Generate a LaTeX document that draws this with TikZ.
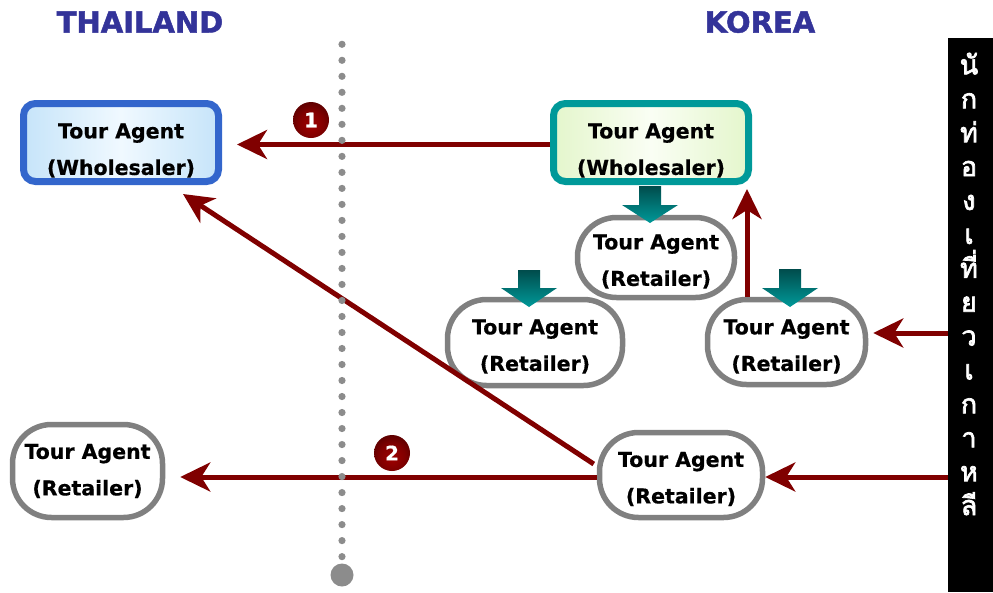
\documentclass[tikz,border=0pt]{standalone}
\usepackage{fontspec}
\setmainfont{DejaVu Sans}
\newfontfamily\thaifont[Script=Thai,FakeBold=2.5]{Loma}
\newfontfamily\heavyfont[FakeBold=1.6]{DejaVu Sans Bold}
\newfontfamily\labelfont[FakeBold=0.6]{DejaVu Sans Bold}
\usetikzlibrary{arrows.meta,calc,shadings}

\definecolor{arrowred}{HTML}{800000}
\definecolor{titleblue}{HTML}{333399}
\definecolor{wholeblue}{HTML}{3366CC}
\definecolor{wholeteal}{HTML}{009999}
\definecolor{retailgray}{HTML}{808080}
\definecolor{dotgray}{HTML}{8C8C8C}
\definecolor{blueA}{HTML}{C6E4F9}
\definecolor{blueB}{HTML}{F0F9FF}
\definecolor{greenA}{HTML}{E4F6CC}
\definecolor{greenB}{HTML}{FAFEF4}
\definecolor{tealdark}{HTML}{004C4C}

\pgfdeclareradialshading{badgeball}{\pgfpoint{0bp}{-8bp}}{%
  color(0bp)=(red!62!black); color(18bp)=(arrowred); color(34bp)=(black!70!red); color(50bp)=(black!70!red)}

% first-line strut: pushes a two-line label down by #1 pt
\newcommand\pushdown[1]{\rule{0pt}{\dimexpr 15pt+#1pt*2\relax}}

\tikzset{
  agent/.style={align=center, inner sep=0pt,
    font=\labelfont\fontsize{20.5}{36.5}\selectfont},
  wholesaler/.style={agent, draw, line width=7pt, rounded corners=12pt,
    minimum width=195pt, minimum height=78pt, shading angle=45},
  retailer/.style={agent, draw=retailgray, fill=white, line width=5.5pt,
    rounded corners=39pt},
  redarrow/.style={draw=arrowred, line width=5pt,
    -{Stealth[length=30pt,width=29pt,inset=9pt]}},
  badge/.style={circle, minimum size=36pt, inner sep=0pt, shading=badgeball,
    text=white, font=\labelfont\fontsize{20}{20}\selectfont},
  title/.style={text=titleblue, font=\heavyfont\fontsize{29}{30}\selectfont},
  blockarrow/.style={top color=tealdark, bottom color=wholeteal, draw=none}
}

% down-pointing block arrow: centre x, shaft top, head base, tip
\newcommand\tealdown[4]{%
  \shade[blockarrow] (#1-11,#2) -- (#1+11,#2) -- (#1+11,#3) -- (#1+28,#3)
    -- (#1,#4) -- (#1-28,#3) -- (#1-11,#3) -- cycle;}

\begin{document}
\begin{tikzpicture}[x=1pt,y=-1pt]
\useasboundingbox (0,0) rectangle (993,592);

% titles
\node[title] (thai) at (140,22) {THAILAND};
\node[title] (korea) at (760,22) {KOREA};

% side bar with vertical Thai text
\node[fill=black, inner sep=0pt, minimum width=45pt, minimum height=554pt,
  anchor=north west] (bar) at (948,38) {};
\node[text=white, align=center, inner sep=0pt,
  font=\thaifont\fontsize{27}{33.9}\selectfont] (tourist) at (969,284)
  {นั\\ก\\ท่\\อ\\ง\\เ\\ที่\\ย\\ว\\เ\\ก\\า\\ห\\ลี};

% agents
\node[wholesaler, draw=wholeblue, left color=blueA, right color=blueA,
  middle color=blueB] (tw) at (121,142.5) {\pushdown{8}Tour Agent\\(Wholesaler)};
\node[wholesaler, draw=wholeteal, left color=greenA, right color=greenA,
  middle color=greenB] (kw) at (651,142.5) {\pushdown{8}Tour Agent\\(Wholesaler)};
\node[retailer, minimum width=157pt, minimum height=80pt] (kr) at (656,257.5)
  {\pushdown{4}Tour Agent\\(Retailer)};
\node[retailer, minimum width=175pt, minimum height=86pt] (ml) at (535,342.5)
  {\pushdown{4}Tour Agent\\(Retailer)};
\node[retailer, minimum width=158pt, minimum height=85pt] (mr) at (786.5,342)
  {\pushdown{4.5}Tour Agent\\(Retailer)};
\node[retailer, minimum width=163pt, minimum height=85pt] (br) at (681,475)
  {\pushdown{4}Tour Agent\\(Retailer)};
\node[retailer, minimum width=150pt, minimum height=93pt] (tr) at (87.5,471)
  {\pushdown{0}Tour Agent\\(Retailer)};

% flows
\coordinate (tip2) at (183,194);
\draw[redarrow] ($(kw.west)+(0,2)$) -- ($(tw.east)+(15,2)$);
\draw[redarrow] ($(br.west)+(-3,-11)$) -- (tip2);
\draw[redarrow] ($(br.west)+(0,2)$) -- ($(tr.east |- br.west)+(15,2)$);
\draw[redarrow] ($(bar.west |- br.east)+(0,2)$) -- ($(br.east)+(0,2)$);
\draw[redarrow] ($(bar.west |- mr.east)+(0,-9)$) -- ($(mr.east)+(5,-9)$);
\draw[redarrow] ($(mr.north)+(-39.5,0)$) -- ($(kw.south -| mr.north)+(-39.5,4)$);

% border line between the two countries
\foreach \i in {0,...,32}
  \fill[dotgray] (342,44.3+16.01*\i) circle (3.6);
\fill[dotgray] (342,575) circle (11.5);

% distribution inside Korea
\tealdown{650}{186}{205}{223}
\tealdown{529}{270}{288}{307}
\tealdown{790}{269}{288}{307}

% channel numbers
\node[badge] (b1) at (311,120) {1};
\node[badge] (b2) at (392,453) {2};
\end{tikzpicture}
\end{document}
